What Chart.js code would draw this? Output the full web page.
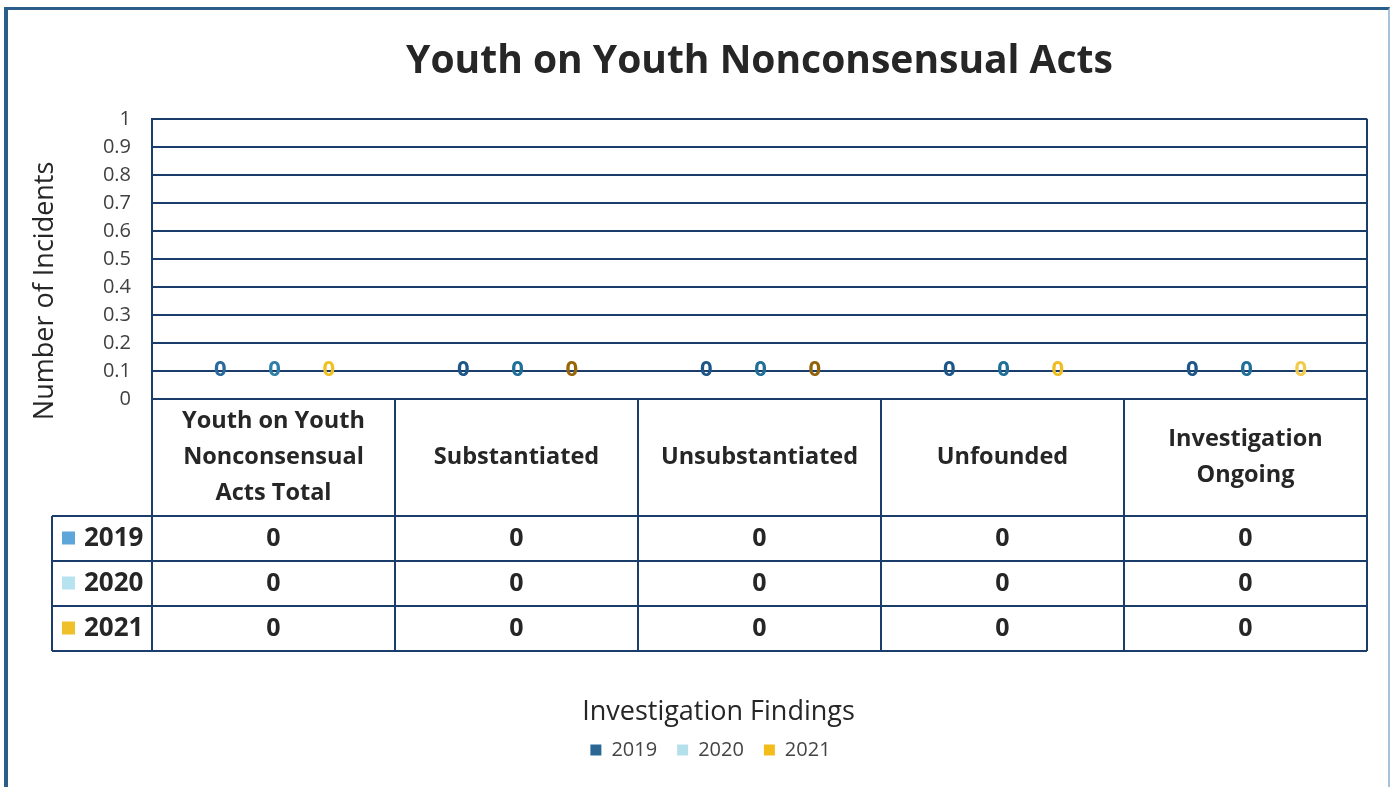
<!DOCTYPE html>
<html>
<head>
<meta charset="utf-8">
<title>Youth on Youth Nonconsensual Acts</title>
<script src="https://cdn.jsdelivr.net/npm/chart.js@4/dist/chart.umd.min.js"></script>
<style>
  html, body { margin: 0; padding: 0; background: #fff; }
  #wrap { position: relative; width: 1396px; height: 787px; overflow: hidden; }
  #frame {
    position: absolute; left: 4px; top: 7px; width: 1386px; height: 780px;
    border-left: 4px solid #2b5d8a; border-top: 3px solid #2b5d8a;
    border-right: 2px solid #a9c2d8; box-sizing: border-box; pointer-events: none;
  }
  canvas { position: absolute; left: 0; top: 0; }
</style>
</head>
<body>
<div id="wrap">
  <canvas id="chart" width="1396" height="787"></canvas>
  <div id="frame"></div>
</div>
<script>
// categories (x axis / table header)
const categories = [
  ['Youth on Youth', 'Nonconsensual', 'Acts Total'],
  ['Substantiated'],
  ['Unsubstantiated'],
  ['Unfounded'],
  ['Investigation', 'Ongoing']
];
const years = ['2019', '2020', '2021'];
const values2019 = [0, 0, 0, 0, 0];
const values2020 = [0, 0, 0, 0, 0];
const values2021 = [0, 0, 0, 0, 0];
const yTicks = [0, 0.1, 0.2, 0.3, 0.4, 0.5, 0.6, 0.7, 0.8, 0.9, 1];

// styling
const seriesColors = ['#2a6795', '#b4e0ec', '#f2bc1b'];
const tableSwatch = ['#5ea6da', '#b7e3f0', '#f0c02a'];
const labelColors = [
  ['#2a6a9c', '#1d5688', '#1d5688', '#1d5688', '#1d5688'],
  ['#2f7fa8', '#1f6f98', '#1f6f98', '#1f6f98', '#1f6f98'],
  ['#f1c024', '#9a6508', '#94620a', '#efbd22', '#f3cb4a']
];
const lineColor = '#1b3d6b';
const FONT = '"Open Sans", "Noto Sans", sans-serif';

const tablePlugin = {
  id: 'dataTable',
  afterDatasetsDraw(chart) {
    const ctx = chart.ctx;
    // data labels above each (zero) bar
    ctx.save();
    ctx.font = 'bold 22px ' + FONT;
    ctx.textAlign = 'center';
    ctx.textBaseline = 'middle';
    chart.data.datasets.forEach((ds, di) => {
      chart.getDatasetMeta(di).data.forEach((bar, i) => {
        ctx.fillStyle = labelColors[di][i];
        ctx.fillText(String(ds.data[i]), bar.x + 1, bar.y - 29);
      });
    });
    ctx.restore();
  },
  afterDraw(chart) {
    const ctx = chart.ctx;
    const x = chart.scales.x;
    const area = chart.chartArea;
    const n = categories.length;
    const colW = (area.right - area.left) / n;
    const headTop = area.bottom;
    const headH = 117;
    const rowH = 45;
    const legendLeft = 52;
    const tableBottom = headTop + headH + rowH * years.length;

    ctx.save();
    ctx.strokeStyle = lineColor;
    ctx.lineWidth = 2;
    // vertical lines
    for (let i = 0; i <= n; i++) {
      const px = Math.round(area.left + colW * i);
      ctx.beginPath();
      ctx.moveTo(px, (i === 0 || i === n) ? area.top : headTop);
      ctx.lineTo(px, tableBottom);
      ctx.stroke();
    }
    ctx.beginPath();
    ctx.moveTo(legendLeft, headTop + headH);
    ctx.lineTo(legendLeft, tableBottom);
    ctx.stroke();
    for (let r = 0; r <= years.length; r++) {
      const py = Math.round(headTop + headH + rowH * r);
      ctx.beginPath();
      ctx.moveTo(legendLeft, py);
      ctx.lineTo(area.right, py);
      ctx.stroke();
    }

    // header text
    ctx.fillStyle = '#262626';
    ctx.textAlign = 'center';
    ctx.textBaseline = 'middle';
    ctx.font = 'bold 23.5px ' + FONT;
    categories.forEach((lines, i) => {
      const cx = x.getPixelForValue(i);
      const lh = 36;
      const startY = headTop + headH / 2 - (lines.length - 1) * lh / 2;
      lines.forEach((t, k) => ctx.fillText(t, cx, startY + k * lh));
    });

    // rows
    const series = [values2019, values2020, values2021];
    series.forEach((vals, r) => {
      const cy = headTop + headH + rowH * r + rowH / 2;
      ctx.fillStyle = tableSwatch[r];
      ctx.fillRect(legendLeft + 10, cy - 7, 13, 13);
      ctx.fillStyle = '#262626';
      ctx.textAlign = 'left';
      ctx.font = 'bold 26px ' + FONT;
      ctx.fillText(years[r], legendLeft + 32, cy);
      ctx.textAlign = 'center';
      ctx.font = 'bold 25px ' + FONT;
      vals.forEach((v, i) => ctx.fillText(String(v), x.getPixelForValue(i), cy));
    });

    // axis titles
    ctx.fillStyle = '#262626';
    ctx.font = '27px ' + FONT;
    ctx.textAlign = 'center';
    ctx.fillText('Investigation Findings', (legendLeft + area.right) / 2 + 9, 712);
    ctx.translate(45, (area.top + area.bottom) / 2 + 32);
    ctx.rotate(-Math.PI / 2);
    ctx.font = '27px ' + FONT;
    ctx.fillText('Number of Incidents', 0, 0);
    ctx.restore();
  }
};

new Chart(document.getElementById('chart'), {
  type: 'bar',
  data: {
    labels: categories.map(c => c.join(' ')),
    datasets: [
      { label: years[0], data: values2019, backgroundColor: seriesColors[0] },
      { label: years[1], data: values2020, backgroundColor: seriesColors[1] },
      { label: years[2], data: values2021, backgroundColor: seriesColors[2] }
    ]
  },
  options: {
    responsive: false,
    animation: false,
    categoryPercentage: 0.67,
    barPercentage: 0.8,
    layout: { padding: { top: 10, bottom: 17, left: 54, right: 29 } },
    plugins: {
      title: {
        display: true,
        fullSize: false,
        text: 'Youth on Youth Nonconsensual Acts',
        color: '#262626',
        font: { family: FONT, size: 39, weight: 'bold' },
        padding: { top: 28, bottom: 34 }
      },
      legend: {
        position: 'bottom',
        labels: {
          color: '#444',
          font: { family: FONT, size: 20 },
          boxWidth: 11,
          boxHeight: 11,
          padding: 20
        }
      },
      tooltip: { enabled: false }
    },
    scales: {
      x: {
        afterFit(scale) { scale.height = 321; },
        grid: { display: false, drawTicks: false },
        border: { display: false },
        ticks: { display: false }
      },
      y: {
        min: 0,
        max: 1,
        afterFit(scale) { scale.width = 98; },
        afterBuildTicks(scale) { scale.ticks = yTicks.map(v => ({ value: v })); },
        grid: { color: lineColor, lineWidth: 2, drawTicks: false },
        border: { display: true, color: lineColor, width: 2 },
        ticks: {
          autoSkip: false,
          color: '#404040',
          font: { family: FONT, size: 20 },
          padding: 21,
          callback: v => String(Math.round(v * 10) / 10)
        }
      }
    }
  },
  plugins: [tablePlugin]
});
</script>
</body>
</html>
